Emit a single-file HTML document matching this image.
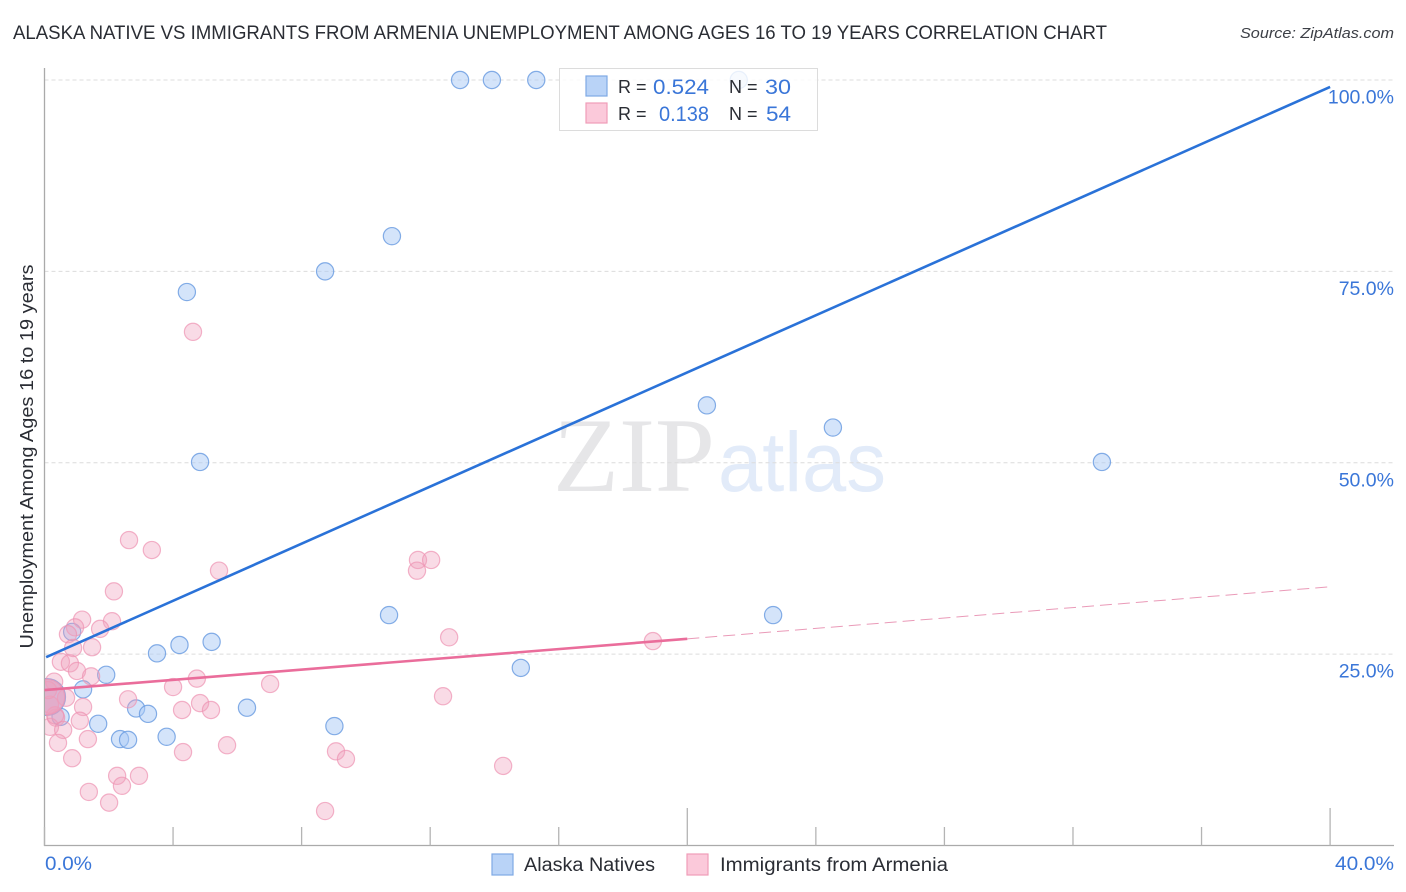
<!DOCTYPE html>
<html>
<head>
<meta charset="utf-8">
<title>Alaska Native vs Immigrants from Armenia chart</title>
<style>
html,body{margin:0;padding:0;background:#fff;width:1406px;height:892px;overflow:hidden}
svg{display:block;font-family:"Liberation Sans",sans-serif}
</style>
</head>
<body>
<svg id="chart" width="1406" height="892" viewBox="0 0 1406 892" xmlns="http://www.w3.org/2000/svg">
  <defs><clipPath id="plot-clip"><rect x="45" y="60" width="1350" height="785"/></clipPath></defs>
  <rect x="0" y="0" width="1406" height="892" fill="#fff"/>
  <text x="13" y="39" font-size="19.5" fill="#2a2d34" textLength="1094" lengthAdjust="spacingAndGlyphs">ALASKA NATIVE VS IMMIGRANTS FROM ARMENIA UNEMPLOYMENT AMONG AGES 16 TO 19 YEARS CORRELATION CHART</text>
  <text x="1394" y="38" font-size="15" font-style="italic" fill="#3c3f46" text-anchor="end" textLength="154" lengthAdjust="spacingAndGlyphs">Source: ZipAtlas.com</text>
  <g>
    <text x="553" y="491" font-family="'Liberation Serif',serif" font-size="106" fill="#e6e6e8" textLength="162" lengthAdjust="spacingAndGlyphs">ZIP</text>
    <text x="718" y="491" font-size="84" fill="#e2ebf9" textLength="168" lengthAdjust="spacingAndGlyphs">atlas</text>
  </g>
  <g id="grid"></g>
  <g id="axes"></g>
  <g id="points-blue" clip-path="url(#plot-clip)"></g>
  <g id="points-pink" clip-path="url(#plot-clip)"></g>
  <g id="trends"></g>
  <g id="labels"></g>
  <text transform="translate(33,456.5) rotate(-90)" font-size="18.5" fill="#2a2d34" text-anchor="middle" textLength="384" lengthAdjust="spacingAndGlyphs">Unemployment Among Ages 16 to 19 years</text>
  <g>
    <rect x="559.5" y="68.5" width="258" height="62" fill="#fff" fill-opacity="0.82" stroke="#dcdcdc" stroke-width="1"/>
    <rect x="586" y="76" width="21" height="20" fill="#b9d3f7" stroke="#7fa9e4" stroke-width="1.2"/>
    <rect x="586" y="103" width="21" height="20" fill="#fbc9da" stroke="#ef9db8" stroke-width="1.2"/>
    <text x="618" y="93" font-size="18" fill="#2a2d34">R =</text>
    <text x="653" y="94" font-size="21" fill="#3a76d8" textLength="56" lengthAdjust="spacingAndGlyphs">0.524</text>
    <text x="729" y="93" font-size="18" fill="#2a2d34">N =</text>
    <text x="765" y="94" font-size="21" fill="#3a76d8" textLength="26" lengthAdjust="spacingAndGlyphs">30</text>
    <text x="618" y="120" font-size="18" fill="#2a2d34">R =</text>
    <text x="659" y="121" font-size="21" fill="#3a76d8" textLength="50" lengthAdjust="spacingAndGlyphs">0.138</text>
    <text x="729" y="120" font-size="18" fill="#2a2d34">N =</text>
    <text x="766" y="121" font-size="21" fill="#3a76d8" textLength="25" lengthAdjust="spacingAndGlyphs">54</text>
  </g>
  <g>
    <rect x="492" y="854" width="21" height="21" fill="#b9d3f7" stroke="#7fa9e4" stroke-width="1.2"/>
    <text x="524" y="871" font-size="19" fill="#2a2d34" textLength="131" lengthAdjust="spacingAndGlyphs">Alaska Natives</text>
    <rect x="687" y="854" width="21" height="21" fill="#fbc9da" stroke="#ef9db8" stroke-width="1.2"/>
    <text x="720" y="871" font-size="19" fill="#2a2d34" textLength="228" lengthAdjust="spacingAndGlyphs">Immigrants from Armenia</text>
  </g>
</svg>
<script>
// Data values: percent units
var blueX = [12.93,13.92,15.3,21.6,10.81,8.73,4.43,4.84,20.61,24.53,32.9,10.72,22.67,0.86,5.2,4.2,3.5,1.92,1.2,14.82,2.85,3.22,6.3,1.67,9.02,2.35,2.6,3.8,0.5,0.08];
var blueY = [100,100,100,100,79.6,75,72.3,50.1,57.5,54.6,50.1,30.1,30.1,27.9,26.6,26.2,25.1,22.3,20.4,23.2,17.9,17.2,18,15.9,15.6,13.9,13.8,14.2,16.8,19.4];
var blueWeights = [1,1,1,1,1,1,1,1,1,1,1,1,1,1,1,1,1,1,1,1,1,1,1,1,1,1,1,1,1,4.6];
var pinkX = [4.62,2.63,3.34,5.43,11.62,12.03,11.59,2.16,1.17,2.1,0.95,1.73,0.73,0.89,1.48,12.59,18.93,0.51,0.79,1.01,1.45,4.74,4,7.02,0.3,2.6,12.4,0.67,1.2,4.28,4.84,5.18,1.1,0.36,0.17,0.58,0.42,1.35,4.31,5.68,9.07,9.38,0.86,14.27,2.26,2.94,2.41,1.38,2.01,8.73,0.17,0.33,0.11,0.08];
var pinkY = [67.1,39.9,38.6,35.9,37.3,37.3,35.9,33.2,29.5,29.3,28.5,28.3,27.6,25.8,25.9,27.2,26.7,24,23.8,22.8,22.1,21.8,20.7,21.1,21.4,19.1,19.5,19.3,18.1,17.7,18.6,17.7,16.3,16.7,15.5,15.1,13.4,13.9,12.2,13.1,12.3,11.3,11.4,10.4,9.1,9.1,7.8,7,5.6,4.5,18.4,17,20.3,19.4];
var pinkWeights = [1,1,1,1,1,1,1,1,1,1,1,1,1,1,1,1,1,1,1,1,1,1,1,1,1,1,1,1,1,1,1,1,1,1,1,1,1,1,1,1,1,1,1,1,1,1,1,1,1,1,1,1,1,4.2];
var blueTrendX = [0.05,40];
var blueTrendY = [24.6,99.1];
var pinkTrendX = [0,20];
var pinkTrendY = [20.3,27];
var pinkDashX = [20,40];
var pinkDashY = [27,33.8];
var xTickValues = [0,4,8,12,16,20,24,28,32,36,40];
var xMajorTicks = [20,40];
var xTickLabels = ["0.0%","40.0%"];
var yTickValues = [25,50,75,100];
var yTickLabels = ["25.0%","50.0%","75.0%","100.0%"];

var NS = 'http://www.w3.org/2000/svg';
function xScale(v){ return 44.5 + v * 32.14; }
function yScale(v){ return 845.5 - v * 7.655; }
function make(parent, tag, attrs){
  var el = document.createElementNS(NS, tag);
  for (var k in attrs) el.setAttribute(k, attrs[k]);
  document.getElementById(parent).appendChild(el);
  return el;
}

// Gridlines and y labels
yTickValues.forEach(function(v, i){
  var g = make('grid', 'line', {x1:44.5, x2:1394, y1:yScale(v), y2:yScale(v), stroke:'#dcdcdc', 'stroke-width':1, 'stroke-dasharray':'4 3'});
  
  
  var t = make('labels', 'text', {x:1394, y:yScale(v) + 23.5, 'font-size':19.5, fill:'#3a76d8', 'text-anchor':'end'});
  
  
  t.textContent = yTickLabels[i];
});

// Axes
var yAxis = make('axes', 'line', {x1:44.5, x2:44.5, y1:68, y2:846, stroke:'#aaaaaa', 'stroke-width':1.3});


var xAxis = make('axes', 'line', {x1:44, x2:1394, y1:845.5, y2:845.5, stroke:'#aaaaaa', 'stroke-width':1.3});


xTickValues.forEach(function(v){
  var top = xMajorTicks.indexOf(v) >= 0 ? 808 : 827;
  var tick = make('axes', 'line', {x1:xScale(v), x2:xScale(v), y1:top, y2:845.5, stroke:'#b4b4b4', 'stroke-width':1.3});
  
  
});
var xl0 = make('labels', 'text', {x:45, y:870, 'font-size':19.5, fill:'#3a76d8', textLength:47, lengthAdjust:'spacingAndGlyphs'});


xl0.textContent = xTickLabels[0];
var xl1 = make('labels', 'text', {x:1335, y:870, 'font-size':19.5, fill:'#3a76d8', textLength:59, lengthAdjust:'spacingAndGlyphs'});


xl1.textContent = xTickLabels[1];

// Points
function radius(w){ return 8.6 * Math.sqrt(w); }
blueX.forEach(function(v, i){
  var c = make('points-blue', 'circle', {cx:xScale(v), cy:yScale(blueY[i]), r:radius(blueWeights[i]), fill:'#a9c9f5', 'fill-opacity':blueWeights[i] > 1 ? 0.8 : 0.5, stroke:'#6f9fe2', 'stroke-opacity':0.85, 'stroke-width':1.2});
  
  
});
pinkX.forEach(function(v, i){
  var c = make('points-pink', 'circle', {cx:xScale(v), cy:yScale(pinkY[i]), r:radius(pinkWeights[i]), fill:'#f0a0bd', 'fill-opacity':pinkWeights[i] > 1 ? 0.6 : 0.38, stroke:'#ee93b2', 'stroke-opacity':0.7, 'stroke-width':1.2});
  
  
});

// Trend lines
var tb = make('trends', 'line', {x1:xScale(blueTrendX[0]), y1:yScale(blueTrendY[0]), x2:xScale(blueTrendX[1]), y2:yScale(blueTrendY[1]), stroke:'#2a72d8', 'stroke-width':2.6});


var tp = make('trends', 'line', {x1:xScale(pinkTrendX[0]), y1:yScale(pinkTrendY[0]), x2:xScale(pinkTrendX[1]), y2:yScale(pinkTrendY[1]), stroke:'#ea6d9b', 'stroke-width':2.6});


var td = make('trends', 'line', {x1:xScale(pinkDashX[0]), y1:yScale(pinkDashY[0]), x2:xScale(pinkDashX[1]), y2:yScale(pinkDashY[1]), stroke:'#ea9ab8', 'stroke-width':1, 'stroke-dasharray':'12 6'});


</script>
</body>
</html>
